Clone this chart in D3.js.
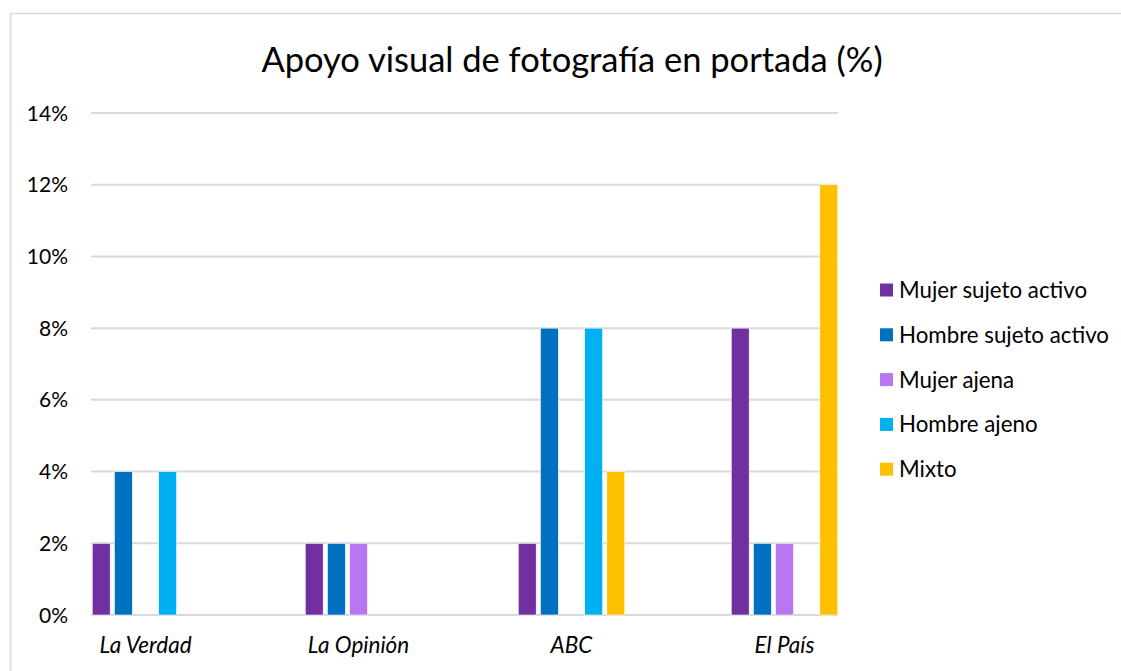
<!DOCTYPE html>
<html>
<head>
<meta charset="utf-8">
<script src="https://cdn.jsdelivr.net/npm/d3@7"></script>
<style>
  body { margin: 0; background: #fff; }
  svg { font-family: Lato, "Open Sans", sans-serif; }
  .gridLine { stroke: #d9d9d9; stroke-width: 2; }
  .tickLbl { font-size: 21px; fill: #000; }
  .catLbl { font-size: 22.5px; font-style: italic; fill: #000; }
  .legLbl { font-size: 22.3px; fill: #000; }
</style>
</head>
<body>
<div class="chart"></div>
<script>
var categories = ["La Verdad", "La Opinión", "ABC", "El País"];
var series = ["Mujer sujeto activo", "Hombre sujeto activo", "Mujer ajena", "Hombre ajeno", "Mixto"];
var colors = ["#7030a0", "#0070c0", "#b876f0", "#00b0f0", "#ffc000"];
// percentages, one array per series, in category order
var mujerActivo = [2, 2, 2, 8];
var hombreActivo = [4, 2, 8, 2];
var mujerAjena = [0, 2, 0, 2];
var hombreAjeno = [4, 0, 8, 0];
var mixto = [0, 0, 4, 12];
var yTicks = [0, 2, 4, 6, 8, 10, 12, 14];
var title = "Apoyo visual de fotografía en portada (%)";

var values = [mujerActivo, hombreActivo, mujerAjena, hombreAjeno, mixto];
var data = [];
categories.forEach(function(c, ci){
  series.forEach(function(s, si){
    data.push({cat: c, serie: s, value: values[si][ci], color: colors[si]});
  });
});

var width = 1121, height = 671;
var svg = d3.select(".chart").append("svg")
  .attr("width", width).attr("height", height);

//chart border
svg.append("rect")
  .attr("x", 10.5).attr("y", 13.5)
  .attr("width", width).attr("height", height)
  .attr("fill", "none").attr("stroke", "#d9d9d9").attr("stroke-width", 1.5);

var y = d3.scaleLinear().domain([0, 14]).range([615, 113]);
var x0 = d3.scaleBand().domain(categories).range([39, 891]);
var x1 = d3.scaleBand().domain(series)
  .range([x0.bandwidth() * 0.25, x0.bandwidth() * 0.75])
  .paddingInner(0.19);

//grid lines
svg.append("g").selectAll(".gridLine")
  .data(yTicks).enter().append("line")
  .attr("class", "gridLine")
  .attr("x1", 91).attr("x2", 838)
  .attr("y1", function(d){ return y(d); })
  .attr("y2", function(d){ return y(d); });

//y labels
svg.append("g").selectAll(".tickLbl")
  .data(yTicks).enter().append("text")
  .attr("class", "tickLbl")
  .attr("x", 68)
  .attr("y", function(d){ return y(d); })
  .attr("dy", "0.36em")
  .style("text-anchor", "end")
  .text(function(d){ return d + "%"; });

//bars
svg.append("g").selectAll(".bar")
  .data(data.filter(function(d){ return d.value > 0; })).enter().append("rect")
  .attr("class", "bar")
  .attr("x", function(d){ return x0(d.cat) + x1(d.serie); })
  .attr("y", function(d){ return y(d.value); })
  .attr("width", x1.bandwidth())
  .attr("height", function(d){ return y(0) - y(d.value); })
  .style("fill", function(d){ return d.color; })
  .style("stroke", "#fff").style("stroke-width", 0.6);

//category labels
svg.append("g").selectAll(".catLbl")
  .data(categories).enter().append("text")
  .attr("class", "catLbl")
  .attr("x", function(d){ return x0(d) + x0.bandwidth() / 2; })
  .attr("y", 653)
  .style("text-anchor", "middle")
  .text(function(d){ return d; });

//title
svg.append("text")
  .attr("x", 572).attr("y", 72)
  .style("text-anchor", "middle")
  .style("font-size", "34.5px")
  .text(title);

//legend
var legend = svg.append("g").selectAll(".legItem")
  .data(series).enter().append("g")
  .attr("class", "legItem")
  .attr("transform", function(d, i){ return "translate(880," + (290 + i * 44.8) + ")"; });
legend.append("rect")
  .attr("x", 0).attr("y", -6.5)
  .attr("width", 13).attr("height", 13)
  .style("fill", function(d, i){ return colors[i]; });
legend.append("text")
  .attr("class", "legLbl")
  .attr("x", 19).attr("y", 0)
  .attr("dy", "0.36em")
  .text(function(d){ return d; });
</script>
</body>
</html>
